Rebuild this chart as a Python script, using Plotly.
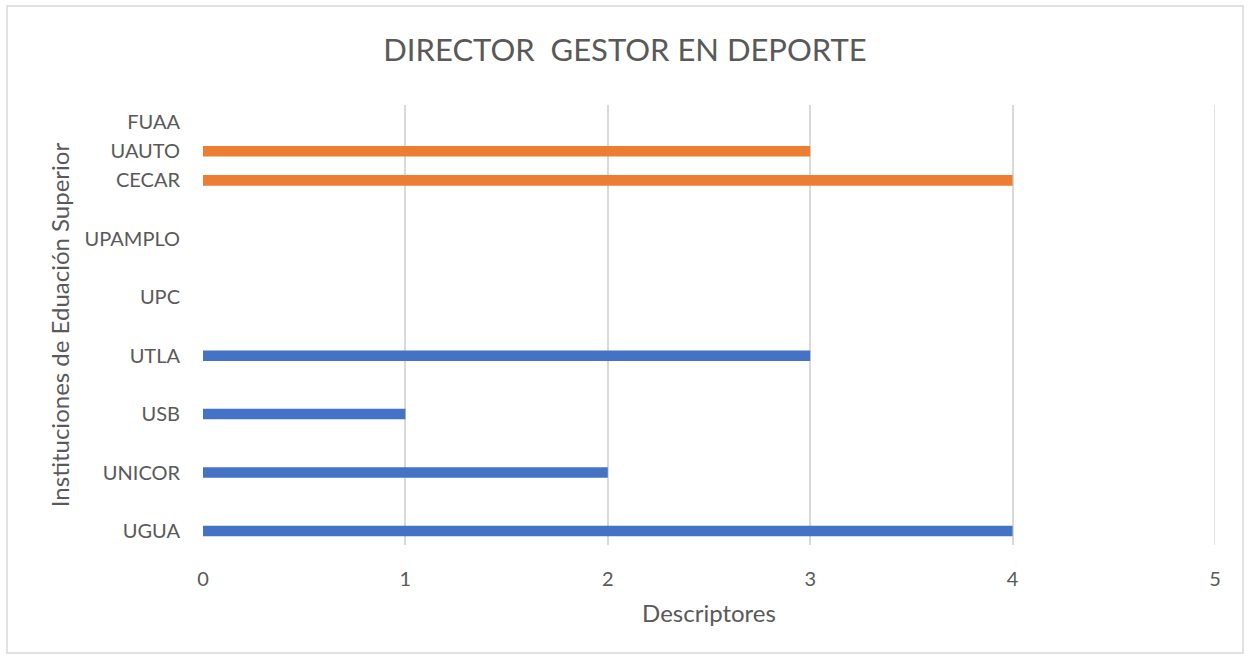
import plotly.graph_objects as go

# Data
blue_categories = ["UGUA", "UNICOR", "USB", "UTLA", "UPC", "UPAMPLO"]
blue_values = [4, 2, 1, 3, None, None]
orange_categories = ["CECAR", "UAUTO", "FUAA"]
orange_values = [4, 3, None]
x_ticks = [0, 1, 2, 3, 4, 5]

# Category positions on the value axis: main categories one step apart,
# the second group at half steps after them.
blue_pos = list(range(len(blue_categories)))
orange_pos = [len(blue_categories) + 0.5 * j for j in range(len(orange_categories))]

FONT = "Lato, 'Open Sans', sans-serif"
TXT = "#595959"
GRID = "#D9D9D9"

fig = go.Figure()
fig.add_trace(go.Bar(
    y=blue_pos, x=[v if v is not None else 0 for v in blue_values],
    orientation="h", width=0.18, marker=dict(color="#4472C4", line=dict(width=0)),
    showlegend=False, hoverinfo="x",
))
fig.add_trace(go.Bar(
    y=orange_pos, x=[v if v is not None else 0 for v in orange_values],
    orientation="h", width=0.18, marker=dict(color="#ED7D31", line=dict(width=0)),
    showlegend=False, hoverinfo="x",
))

fig.update_layout(
    width=1250, height=662,
    margin=dict(l=203, r=35, t=105, b=117),
    paper_bgcolor="white", plot_bgcolor="white",
    font=dict(family=FONT, color=TXT, size=20),
    title=dict(text="DIRECTOR  GESTOR EN DEPORTE", x=0.5, xanchor="center",
               y=1 - 50 / 662, yref="container", yanchor="middle",
               font=dict(size=31, color=TXT, family=FONT)),
    barmode="overlay",
    xaxis=dict(range=[x_ticks[0], x_ticks[-1]], tickvals=x_ticks, showgrid=True, gridcolor=GRID,
               gridwidth=1.5, zeroline=False, showline=False, ticks="",
               ticklabelstandoff=20, tickfont=dict(size=20, color=TXT),
               title=dict(text="Descriptores", font=dict(size=24, color=TXT), standoff=16)),
    yaxis=dict(range=[-0.24, 7.29], tickvals=blue_pos + orange_pos,
               ticktext=blue_categories + orange_categories,
               showgrid=False, zeroline=False, showline=False, ticks="",
               ticklabelstandoff=22, tickfont=dict(size=20, color=TXT),
               title=dict(text="Instituciones de Eduación Superior",
                          font=dict(size=24, color=TXT), standoff=8)),
    shapes=[
        dict(type="rect", xref="paper", yref="paper",
             x0=(7 - 203) / 1012, x1=(1243 - 203) / 1012,
             y0=(545 - 653) / 440, y1=(545 - 6) / 440,
             line=dict(color=GRID, width=1.5), fillcolor="rgba(0,0,0,0)",
             layer="below"),
        dict(type="line", xref="x", yref="paper", x0=x_ticks[-1], x1=x_ticks[-1],
             y0=0, y1=1, line=dict(color=GRID, width=1.5), layer="below"),
    ],
)

fig.write_html("out.html", config={"displayModeBar": False},
               post_script="document.body.style.margin='0';document.body.style.overflow='hidden';")
